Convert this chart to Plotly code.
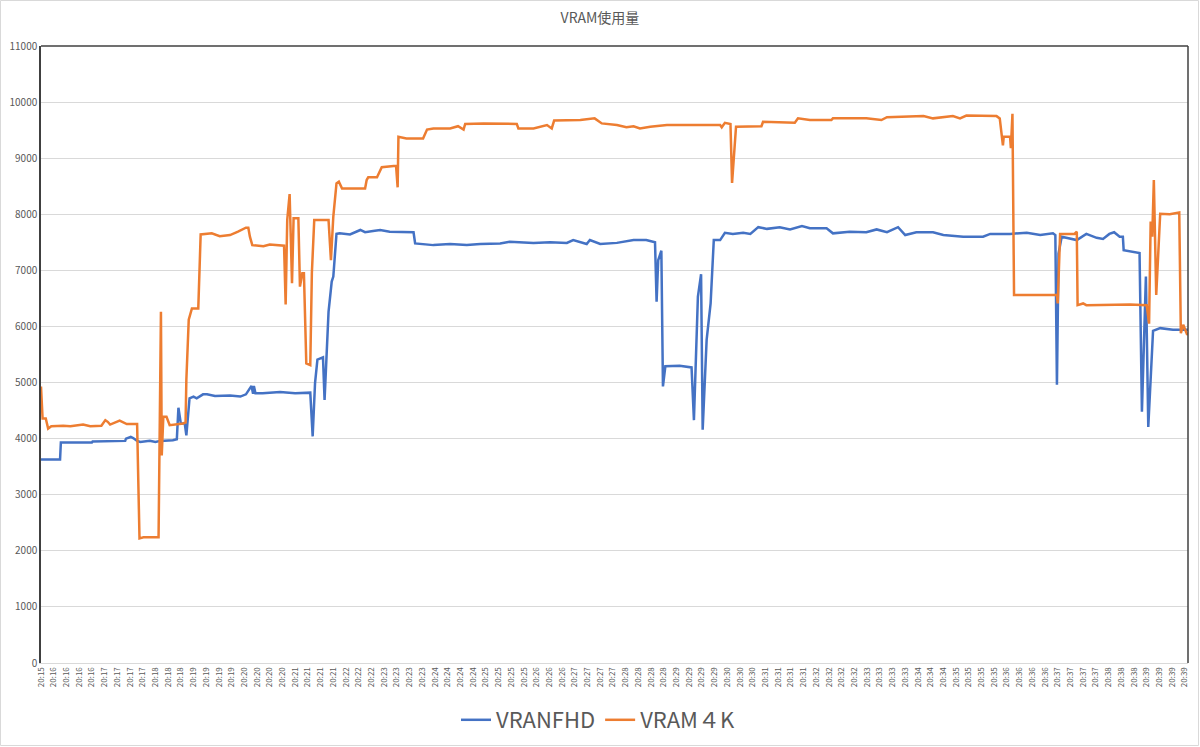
import plotly.graph_objects as go

# ---- data (time in seconds from first sample, values in MB) ----
fhd_t = [0, 24, 25, 64, 65, 106, 107, 113, 116, 121, 125, 137, 144, 150, 166, 171, 173, 176, 181, 183,
         187, 192, 196, 204, 209, 219, 238, 251, 258, 265, 267, 268, 270, 279, 301, 320, 339, 342, 345, 348,
         355, 357, 362, 366, 368, 372, 376, 389, 402, 408, 418, 427, 439, 460, 469, 471, 494, 515, 536, 553,
         578, 590, 620, 641, 662, 670, 687, 691, 704, 725, 746, 762, 773, 775, 777, 781, 783, 786, 804, 819,
         822, 827, 831, 833, 838, 843, 847, 855, 861, 871, 884, 893, 903, 914, 930, 943, 958, 968, 989, 997,
         1018, 1039, 1052, 1065, 1079, 1088, 1102, 1123, 1136, 1161, 1186, 1195, 1220, 1241, 1258, 1274, 1277, 1279, 1281, 1285,
         1291, 1304, 1316, 1329, 1337, 1345, 1351, 1358, 1362, 1363, 1383, 1386, 1391, 1394, 1400, 1409, 1425, 1444]
fhd_v = [3630, 3630, 3930, 3930, 3950, 3960, 4000, 4030, 4010, 3960, 3940, 3960, 3940, 3960, 3970, 3990, 4550, 4270, 4270, 4060,
         4720, 4750, 4720, 4790, 4790, 4760, 4770, 4750, 4790, 4940, 4800, 4940, 4810, 4810, 4830, 4810, 4820, 4040, 4990, 5410,
         5450, 4690, 6260, 6800, 6890, 7650, 7660, 7640, 7720, 7680, 7700, 7720, 7690, 7680, 7680, 7480, 7450, 7470, 7450, 7470,
         7480, 7510, 7490, 7500, 7490, 7540, 7470, 7540, 7470, 7490, 7540, 7540, 7500, 6440, 7180, 7350, 4930, 5290, 5300, 5270,
         4330, 6530, 6930, 4160, 5760, 6410, 7540, 7540, 7670, 7650, 7670, 7650, 7770, 7740, 7770, 7730, 7790, 7750, 7750, 7660,
         7690, 7680, 7730, 7680, 7770, 7630, 7680, 7680, 7630, 7600, 7600, 7650, 7650, 7670, 7630, 7660, 7630, 4960, 7300, 7600,
         7580, 7540, 7650, 7580, 7560, 7650, 7680, 7600, 7600, 7360, 7310, 4480, 6890, 4210, 5920, 5970, 5940, 5940]

k4_t = [0, 2, 6, 9, 13, 28, 37, 53, 62, 76, 81, 84, 87, 93, 99, 108, 121, 124, 129, 148,
        149, 151, 152, 154, 158, 162, 179, 182, 183, 186, 190, 198, 201, 215, 225, 238, 248, 258, 261, 263,
        266, 280, 288, 306, 308, 310, 313, 316, 318, 324, 326, 329, 331, 334, 339, 341, 344, 362, 365, 368,
        372, 375, 379, 408, 410, 412, 423, 427, 429, 444, 447, 449, 450, 460, 481, 486, 494, 515, 525, 532,
        534, 557, 599, 601, 620, 637, 643, 646, 662, 679, 697, 706, 725, 737, 746, 754, 767, 788, 830, 855,
        857, 861, 868, 870, 875, 893, 907, 909, 949, 953, 968, 995, 997, 1039, 1058, 1065, 1090, 1111, 1123, 1148,
        1157, 1165, 1203, 1207, 1211, 1212, 1220, 1221, 1223, 1225, 1279, 1280, 1283, 1301, 1304, 1305, 1312, 1316, 1371, 1392,
        1395, 1397, 1399, 1401, 1404, 1409, 1421, 1431, 1433, 1435, 1438, 1443, 1444]
k4_v = [4930, 4360, 4360, 4180, 4220, 4230, 4220, 4250, 4220, 4230, 4330, 4300, 4250, 4280, 4320, 4260, 4260, 2220, 2240, 2240,
        3700, 6260, 3700, 4390, 4390, 4240, 4270, 4290, 5050, 6120, 6320, 6320, 7640, 7660, 7610, 7630, 7690, 7760, 7760, 7600,
        7450, 7430, 7460, 7440, 6390, 7900, 8360, 6770, 7930, 7930, 6710, 6950, 6950, 5340, 5310, 6950, 7900, 7900, 7180, 7960,
        8550, 8580, 8460, 8460, 8610, 8660, 8660, 8790, 8840, 8860, 8860, 8480, 9380, 9350, 9350, 9510, 9530, 9530, 9570, 9510,
        9610, 9620, 9610, 9530, 9530, 9590, 9530, 9670, 9670, 9680, 9710, 9620, 9590, 9550, 9570, 9530, 9560, 9590, 9590, 9590,
        9550, 9630, 9610, 8560, 9560, 9570, 9570, 9650, 9630, 9710, 9680, 9680, 9710, 9710, 9680, 9730, 9740, 9750, 9710, 9750,
        9710, 9760, 9750, 9710, 9230, 9380, 9380, 9180, 9790, 6560, 6560, 6410, 7650, 7650, 7690, 6380, 6410, 6380, 6390, 6380,
        6050, 7870, 7600, 8610, 6560, 8010, 8000, 8030, 8030, 5880, 6030, 5850, 5880]

tick_labels = ["20:15",
               "20:16", "20:16", "20:16", "20:16",
               "20:17", "20:17", "20:17", "20:17",
               "20:18", "20:18", "20:18",
               "20:19", "20:19", "20:19", "20:19",
               "20:20", "20:20", "20:20", "20:20",
               "20:21", "20:21", "20:21", "20:21",
               "20:22", "20:22", "20:22",
               "20:23", "20:23", "20:23", "20:23",
               "20:24", "20:24", "20:24", "20:24",
               "20:25", "20:25", "20:25", "20:25",
               "20:26", "20:26", "20:26",
               "20:27", "20:27", "20:27", "20:27",
               "20:28", "20:28", "20:28", "20:28",
               "20:29", "20:29", "20:29", "20:29",
               "20:30", "20:30", "20:30",
               "20:31", "20:31", "20:31", "20:31",
               "20:32", "20:32", "20:32", "20:32",
               "20:33", "20:33", "20:33", "20:33",
               "20:34", "20:34", "20:34",
               "20:35", "20:35", "20:35", "20:35",
               "20:36", "20:36", "20:36", "20:36",
               "20:37", "20:37", "20:37", "20:37",
               "20:38", "20:38", "20:38",
               "20:39", "20:39", "20:39", "20:39"]
tick_step = 16  # seconds between labelled categories

series_names = ["VRANFHD", "VRAM４K"]
title_text = "VRAM使用量"

# ---- figure ----
W, H = 1200, 747
ML, MR, MT, MB = 41, 12, 46, 84
pw, ph = W - ML - MR, H - MT - MB
grey = "#595959"
font_family = "Noto Sans CJK JP, Noto Sans, sans-serif"

fig = go.Figure()
fig.add_trace(go.Scatter(x=fhd_t, y=fhd_v, mode="lines", name=series_names[0],
                         line=dict(color="#4472C4", width=2.5)))
fig.add_trace(go.Scatter(x=k4_t, y=k4_v, mode="lines", name=series_names[1],
                         line=dict(color="#ED7D31", width=2.5)))

tickvals = [i * tick_step for i in range(len(tick_labels))]

fig.update_layout(
    width=W, height=H,
    margin=dict(l=ML, r=MR, t=MT, b=MB, autoexpand=False),
    paper_bgcolor="white", plot_bgcolor="white",
    font=dict(family=font_family, color=grey),
    title=dict(text=title_text, x=0.5, xanchor="center", y=1 - 18 / H, yanchor="middle",
               font=dict(size=14, color=grey, family=font_family), automargin=False),
    showlegend=True,
    legend=dict(orientation="h", x=(598 - ML) / pw, xanchor="center",
                y=-(720 - (MT + ph)) / ph, yanchor="middle",
                font=dict(size=22, color=grey, family=font_family),
                bgcolor="rgba(0,0,0,0)", itemwidth=30),
    xaxis=dict(range=[0, 1444], tickmode="array", tickvals=tickvals, ticktext=tick_labels,
               tickangle=-90, tickfont=dict(size=8, color=grey), showgrid=False, zeroline=False,
               showline=True, linecolor="#d9d9d9", linewidth=1, ticks="", ticklen=0,
               automargin=False),
    yaxis=dict(range=[0, 11000], dtick=1000, tick0=0, tickformat="d",
               tickfont=dict(size=10, color=grey),
               showgrid=True, gridcolor="#d9d9d9", gridwidth=1, zeroline=False,
               showline=True, linecolor="#404040", linewidth=1.5, ticks="",
               automargin=False),
)

# plot-area border (top and right) and outer chart border
fig.add_shape(type="line", xref="paper", yref="paper", x0=0, x1=1, y0=1, y1=1,
              line=dict(color="#404040", width=1.5))
fig.add_shape(type="line", xref="paper", yref="paper", x0=1, x1=1, y0=0, y1=1,
              line=dict(color="#404040", width=1.5))
fig.add_shape(type="rect", xref="paper", yref="paper",
              x0=-(ML - 0.5) / pw, x1=1 + (MR - 1.5) / pw,
              y0=-(MB - 1.5) / ph, y1=1 + (MT - 0.5) / ph,
              line=dict(color="#d9d9d9", width=1), fillcolor="rgba(0,0,0,0)", layer="below")

fig.write_html("out.html", config={"displayModeBar": False},
               post_script="document.body.style.margin='0px';")
